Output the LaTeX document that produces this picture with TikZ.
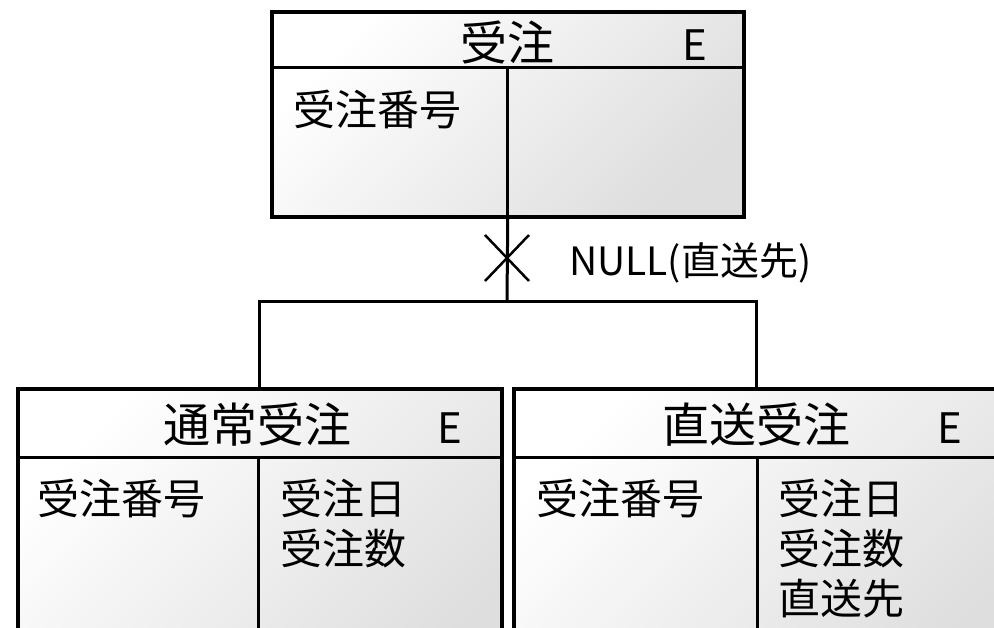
\documentclass[tikz,border=0pt]{standalone}
\usepackage{fontspec}
\setmainfont{Noto Sans CJK JP}
\begin{document}
\begin{tikzpicture}[x=1pt,y=-1pt,
  entity/.style={draw,line width=3.5pt,rectangle,anchor=north west,inner sep=0pt,
    top color=white,bottom color=black!13,shading angle=45},
  sep/.style={line width=3pt},
  conn/.style={line width=3pt},
  hdr/.style={anchor=base,inner sep=0pt,font=\fontsize{47}{50}\selectfont},
  etag/.style={anchor=base,inner sep=0pt,font=\fontsize{42}{50}\selectfont},
  attr/.style={anchor=base west,inner sep=0pt,font=\fontsize{42}{50}\selectfont},
  lbl/.style={anchor=base west,inner sep=0pt,font=\fontsize{39}{44}\selectfont}]
\useasboundingbox (0,0) rectangle (994,627);
\clip (0,0) rectangle (994,627);
% top entity
\node[entity,minimum width=472pt,minimum height=205pt] (t) at (270,10) {};
\draw[sep] (270,67) -- (742,67);
\draw[sep] (507,67) -- (507,215);
\node[hdr] (th) at (507,60) {受注};
\node[etag] (te) at (695,60) {E};
\node[attr] (ta) at (293,125) {受注番号};
% bottom entities
\node[entity,minimum width=484pt,minimum height=320pt] (bl) at (16,387) {};
\draw[sep] (16,457) -- (500,457);
\draw[sep] (258,457) -- (258,707);
\node[hdr] (blh) at (257,442) {通常受注};
\node[etag] (ble) at (450,443) {E};
\node[attr] (bla) at (37,514) {受注番号};
\node[attr] (blb1) at (280,514) {受注日};
\node[attr] (blb2) at (280,564) {受注数};
\node[entity,minimum width=486pt,minimum height=320pt] (br) at (512,387) {};
\draw[sep] (512,457) -- (998,457);
\draw[sep] (757,457) -- (757,707);
\node[hdr] (brh) at (756,442) {直送受注};
\node[etag] (bre) at (950,443) {E};
\node[attr] (bra) at (536,514) {受注番号};
\node[attr] (brb1) at (778,514) {受注日};
\node[attr] (brb2) at (778,564) {受注数};
\node[attr] (brb3) at (778,614) {直送先};
% connector
\coordinate (j) at (507,301);
\coordinate (xm) at (507,258);
\draw[conn] (t.south) -- (j);
\draw[conn] (bl.north) |- (j) -| (br.north);
\draw[line width=2.5pt] ([shift={(-22,-23)}]xm) -- ([shift={(22,23)}]xm);
\draw[line width=2.5pt] ([shift={(-22,23)}]xm) -- ([shift={(22,-23)}]xm);
\node[lbl] (nl) at (569,275) {NULL(直送先)};
\end{tikzpicture}
\end{document}
